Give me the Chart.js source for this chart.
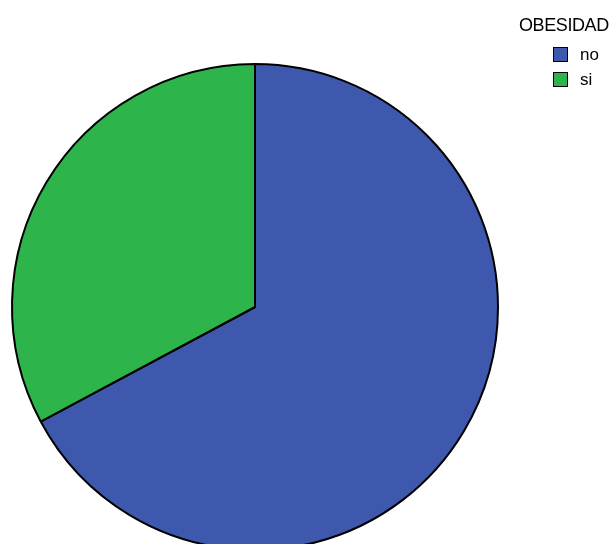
<!DOCTYPE html>
<html>
<head>
<meta charset="utf-8">
<script src="https://cdn.jsdelivr.net/npm/chart.js@4/dist/chart.umd.min.js"></script>
<style>
  html, body { margin: 0; padding: 0; background: #fff; overflow: hidden; }
  #wrap { position: relative; width: 615px; height: 544px; overflow: hidden; }
  #pie { position: absolute; left: 0; top: 0; }
  #legend { position: absolute; left: 519px; top: 15px; font-family: "Liberation Sans", Arial, sans-serif; color: #000; }
  #legend .title { font-size: 18px; letter-spacing: -0.4px; line-height: 20px; margin-bottom: 12px; }
  #legend .item { position: relative; height: 25px; margin-left: 34px; font-size: 17px; line-height: 17px; }
  #legend .box { position: absolute; left: 0; top: 0; width: 13px; height: 13px; border: 1.5px solid #000; }
  #legend .lbl { position: absolute; left: 27px; top: -1px; }
</style>
</head>
<body>
<div id="wrap">
  <canvas id="pie" width="615" height="560"></canvas>
  <div id="legend"></div>
</div>
<script>
// OBESIDAD: counts per category
const legendTitle = "OBESIDAD";
const categories = ["no", "si"];
const counts = [43, 21];
const sliceColors = ["#3D58AC", "#2DB44B"];

new Chart(document.getElementById("pie"), {
  type: "pie",
  data: {
    labels: categories,
    datasets: [{
      data: counts,
      backgroundColor: sliceColors,
      borderColor: "#000",
      borderWidth: 2
    }]
  },
  options: {
    responsive: false,
    animation: false,
    devicePixelRatio: 1,
    radius: 243,
    layout: { padding: { left: 12, right: 117, top: 64, bottom: 10 } },
    plugins: {
      legend: { display: false },
      tooltip: { enabled: false }
    }
  }
});

// Legend drawn as HTML text from the same arrays
const legend = document.getElementById("legend");
const t = document.createElement("div");
t.className = "title";
t.textContent = legendTitle;
legend.appendChild(t);
categories.forEach((c, i) => {
  const row = document.createElement("div");
  row.className = "item";
  const b = document.createElement("span");
  b.className = "box";
  b.style.background = sliceColors[i];
  const l = document.createElement("span");
  l.className = "lbl";
  l.textContent = c;
  row.appendChild(b);
  row.appendChild(l);
  legend.appendChild(row);
});
</script>
</body>
</html>
